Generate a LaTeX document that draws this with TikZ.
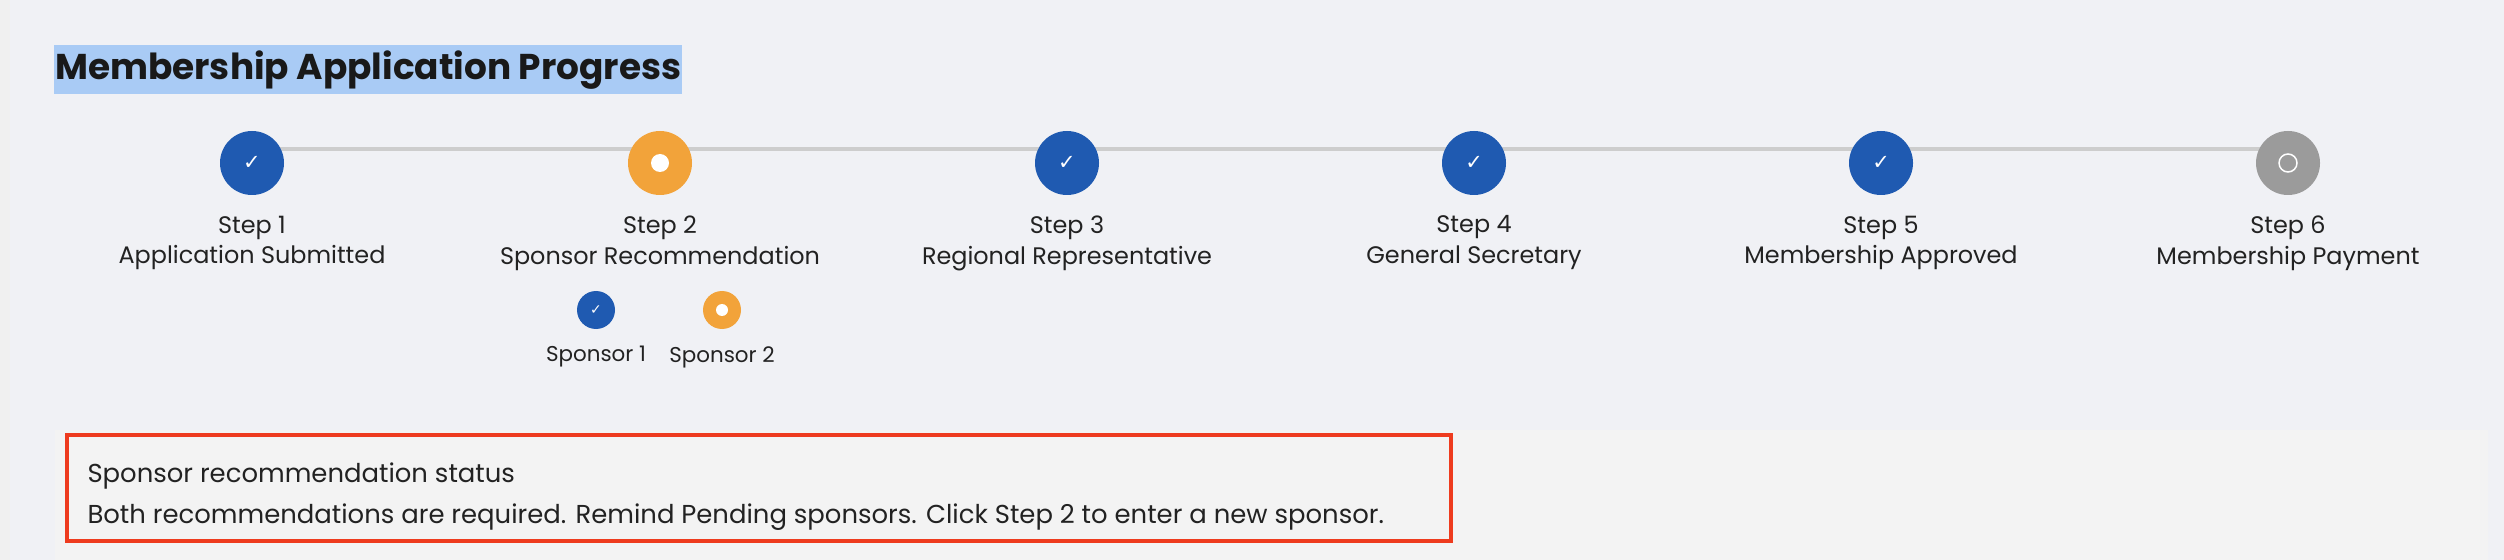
\documentclass[tikz,border=0pt]{standalone}
\usepackage{fontspec}
\setmainfont{Poppins}
\newfontfamily\symfont{DejaVu Sans}
\usetikzlibrary{positioning}
\definecolor{pagebg}{HTML}{F0F1F5}
\definecolor{panelbg}{HTML}{F3F3F3}
\definecolor{doneblue}{HTML}{1F5AB1}
\definecolor{pendorange}{HTML}{F2A33A}
\definecolor{todogray}{HTML}{9B9B9B}
\definecolor{trackgray}{HTML}{CDCDCD}
\definecolor{alertred}{HTML}{EE3B1E}
\definecolor{titlehl}{HTML}{A9CBF5}
\definecolor{inktext}{HTML}{222222}
\tikzset{
  stepdot/.style={circle, minimum size=64bp, inner sep=0pt, text=white},
  done/.style={stepdot, fill=doneblue, font=\symfont\fontsize{21}{21}\selectfont},
  subdone/.style={done, minimum size=38bp, font=\symfont\fontsize{14}{14}\selectfont},
  steplabel/.style={align=center, text=inktext, font=\fontsize{24}{31}\selectfont},
}
\begin{document}
\begin{tikzpicture}[x=1bp, y=-1bp]
    \useasboundingbox (0,0) rectangle (2504,560);
    \fill[pagebg] (0,0) rectangle (2504,560);
    \fill[black!6] (0,0) rectangle (10,560);
    \fill[panelbg] (55,430) rectangle (2488,560);
    % title
    \node[fill=titlehl, anchor=west, inner sep=1bp, minimum height=49bp, text=black!90,
          font=\bfseries\fontsize{36}{36}\selectfont] (title) at (54,70) {Membership Application Progress};
    % track
    \coordinate (t1) at (252,149);
    \coordinate (t6) at (2288,149);
    \draw[trackgray, line width=3.5bp] (t1) -- (t6);
    % steps
    \node[done] (s1) at (252,163) {✓};
    \node[stepdot, fill=pendorange] (s2) at (660,163) {};
    \fill[white] (s2) circle (9bp);
    \node[done] (s3) at (1067,163) {✓};
    \node[done] (s4) at (1474,163) {✓};
    \node[done] (s5) at (1881,163) {✓};
    \node[stepdot, fill=todogray] (s6) at (2288,163) {};
    \draw[white, line width=1.5bp] (s6) circle (9bp);
    \node[steplabel, below=17bp of s1] (l1) {Step 1\\Application Submitted};
    \node[steplabel, below=17bp of s2] (l2) {Step 2\\Sponsor Recommendation};
    \node[steplabel, below=17bp of s3] (l3) {Step 3\\Regional Representative};
    \node[steplabel, below=17bp of s4] (l4) {Step 4\\General Secretary};
    \node[steplabel, below=17bp of s5] (l5) {Step 5\\Membership Approved};
    \node[steplabel, below=17bp of s6] (l6) {Step 6\\Membership Payment};
    % sponsors
    \node[subdone] (p1) at (596,310) {✓};
    \node[stepdot, minimum size=38bp, fill=pendorange] (p2) at (722,310) {};
    \fill[white] (p2) circle (6bp);
    \node[text=inktext, font=\fontsize{21.5}{21.5}\selectfont] (q1) at (596,357) {Sponsor 1};
    \node[text=inktext, font=\fontsize{21.5}{21.5}\selectfont] (q2) at (722,357) {Sponsor 2};
    % status box
    \draw[alertred, fill=panelbg, line width=4.5bp] (67,435) rectangle (1451,541);
    \node[anchor=west, text=inktext, font=\fontsize{26}{26}\selectfont] (m1) at (84,476) {Sponsor recommendation status};
    \node[anchor=west, text=inktext, font=\fontsize{26}{26}\selectfont] (m2) at (84,517) {Both recommendations are required. Remind Pending sponsors. Click Step 2 to enter a new sponsor.};
\end{tikzpicture}
\end{document}
